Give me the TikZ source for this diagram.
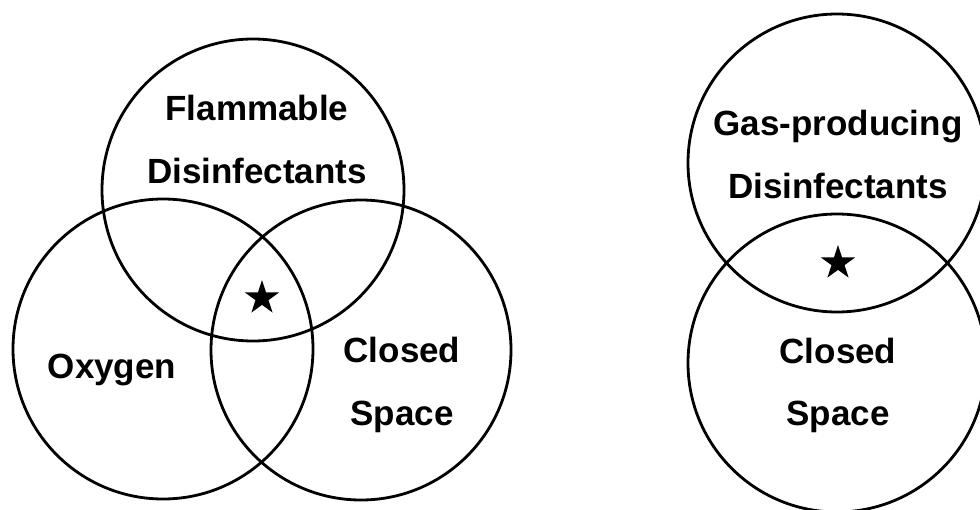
\documentclass[tikz,border=0pt]{standalone}
\usepackage{fontspec}
\setmainfont{Liberation Sans}
\usetikzlibrary{shapes.geometric}
\begin{document}
\begin{tikzpicture}[x=1pt,y=-1pt,
  venn/.style={circle,draw=black,line width=2.8pt,inner sep=0pt,minimum size=300pt},
  lbl/.style={anchor=base,inner sep=0pt,font=\fontsize{35}{40}\selectfont\bfseries},
  starmark/.style={star,star points=5,star point ratio=2.618,fill=black,draw=none,inner sep=0pt,minimum size=36pt}]
\useasboundingbox (0,0) rectangle (980,509);
\clip (0,0) rectangle (980,509);
\fill[white] (0,0) rectangle (980,509);
% left Venn
\node[venn,minimum size=302pt] (flam) at (253,190) {};
\node[venn] (oxy) at (163,349) {};
\node[venn] (cls) at (361,350) {};
\node[lbl] (t1) at (257,120) {Flammable};
\node[lbl] (t2) at (257,183) {Disinfectants};
\node[lbl] (t3) at (112,378) {Oxygen};
\node[lbl] (t4) at (402,362) {Closed};
\node[lbl] (t5) at (402,425) {Space};
\node[starmark] (s1) at (262,298) {};
% right Venn
\node[venn,minimum size=298pt] (gas) at (837,163) {};
\node[venn,minimum size=298pt] (cls2) at (837,363) {};
\node[lbl] (r1) at (838,135) {Gas-producing};
\node[lbl] (r2) at (838,198) {Disinfectants};
\node[lbl] (r3) at (838,363) {Closed};
\node[lbl] (r4) at (838,425) {Space};
\node[starmark] (s2) at (838,263) {};
\end{tikzpicture}
\end{document}
